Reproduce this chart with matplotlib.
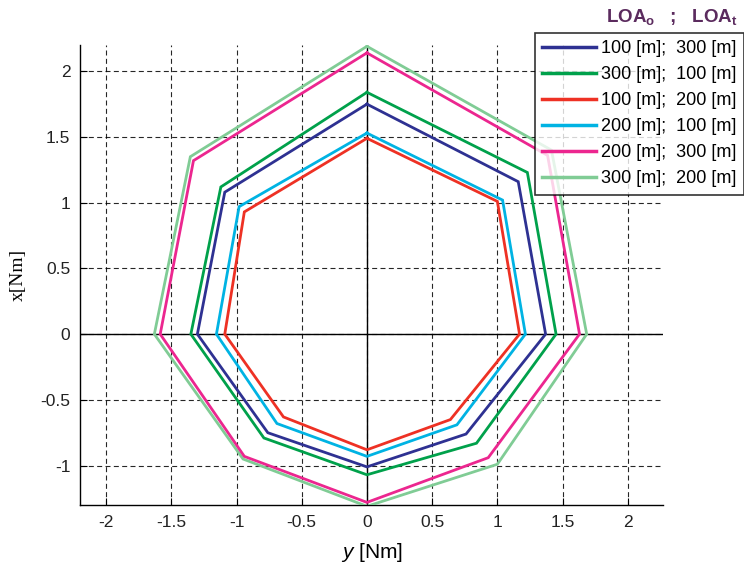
import matplotlib
matplotlib.use("Agg")
import matplotlib.pyplot as plt
from matplotlib.lines import Line2D

plt.rcParams['font.family'] = ['Liberation Sans', 'DejaVu Sans']
plt.rcParams['mathtext.fontset'] = 'custom'
plt.rcParams['mathtext.it'] = 'Liberation Sans:italic'
plt.rcParams['mathtext.rm'] = 'Liberation Sans'
plt.rcParams['mathtext.bf'] = 'Liberation Sans:bold'

# Vertex order: top, upper-right, right, lower-right, bottom, lower-left, left, upper-left
labels = ["100 [m];  300 [m]", "300 [m];  100 [m]", "100 [m];  200 [m]",
          "200 [m];  100 [m]", "200 [m];  300 [m]", "300 [m];  200 [m]"]
colors = ["#2E3192", "#00A14B", "#EE3124", "#00B3E3", "#EC268F", "#80CC95"]

y_blue = [0, 1.16, 1.37, 0.76, 0, -0.76, -1.30, -1.09]
x_blue = [1.75, 1.16, 0, -0.76, -1.01, -0.75, 0, 1.08]

y_green = [0, 1.23, 1.45, 0.84, 0, -0.79, -1.35, -1.12]
x_green = [1.84, 1.23, 0, -0.83, -1.07, -0.79, 0, 1.12]

y_red = [0, 1.00, 1.17, 0.64, 0, -0.64, -1.09, -0.94]
x_red = [1.49, 1.01, 0, -0.65, -0.88, -0.63, 0, 0.93]

y_cyan = [0, 1.04, 1.215, 0.69, 0, -0.69, -1.154, -0.98]
x_cyan = [1.53, 1.02, 0, -0.69, -0.93, -0.68, 0, 0.97]

y_mag = [0, 1.385, 1.63, 0.93, 0, -0.94, -1.585, -1.33]
x_mag = [2.14, 1.36, 0, -0.94, -1.28, -0.93, 0, 1.32]

y_lg = [0, 1.415, 1.685, 1.00, 0, -0.95, -1.63, -1.354]
x_lg = [2.19, 1.40, 0, -0.99, -1.31, -0.95, 0, 1.35]

series = [(y_blue, x_blue), (y_green, x_green), (y_red, x_red),
          (y_cyan, x_cyan), (y_mag, x_mag), (y_lg, x_lg)]
zorders = [4, 4, 4, 4, 4, 3]

xticks = [-2, -1.5, -1, -0.5, 0, 0.5, 1, 1.5, 2]
xticklabels = ["-2", "-1.5", "-1", "-0.5", "0", "0.5", "1", "1.5", "2"]
yticks = [-1, -0.5, 0, 0.5, 1, 1.5, 2]
yticklabels = ["-1", "-0.5", "0", "0.5", "1", "1.5", "2"]

W, H = 744, 569
fig = plt.figure(figsize=(W / 100, H / 100), dpi=100)
ax = fig.add_axes([80 / W, 1 - 505 / H, (663 - 80) / W, (505 - 45) / H])

ax.set_xlim(-2.2, 2.27)
ax.set_ylim(-1.3, 2.2)

ax.axhline(0, color='black', lw=1.0, zorder=2)
ax.axvline(0, color='black', lw=1.0, zorder=2)
ax.grid(True, color='black', linestyle=(0, (4.5, 3)), lw=0.8, alpha=0.85)
ax.set_axisbelow(True)

for (ys, xs), c, lab, z in zip(series, colors, labels, zorders):
    ax.plot(list(ys) + [ys[0]], list(xs) + [xs[0]], color=c, lw=2.0,
            label=lab, zorder=z, solid_joinstyle='miter')

ax.set_xticks(xticks)
ax.set_xticklabels(xticklabels)
ax.set_yticks(yticks)
ax.set_yticklabels(yticklabels)
ax.tick_params(direction='in', length=5, width=0.8, labelsize=12.5, pad=7,
               colors='black', labelcolor='#222222')
for s in ['top', 'right']:
    ax.spines[s].set_visible(False)
for s in ['left', 'bottom']:
    ax.spines[s].set_linewidth(1.0)

ax.set_xlabel(r'$y$ [Nm]', fontsize=15, labelpad=8)
ax.set_ylabel('x[Nm]', fontsize=14, family='Liberation Serif', labelpad=10)

handles = [Line2D([], [], color=c, lw=2.5) for c in colors]
leg = fig.legend(handles, labels, loc='upper right',
                 bbox_to_anchor=(744 / W, 1 - 33 / H),
                 fontsize=13, frameon=True, fancybox=False,
                 edgecolor='black', handlelength=3.0, handletextpad=0.3,
                 labelspacing=0.5, borderpad=0.4, borderaxespad=0)
leg.get_frame().set_linewidth(1.2)

purple = '#5B2B5E'
fig.text(738 / W, 1 - 17 / H,
         r'$\mathbf{LOA}_{\mathbf{o}}$   ;   $\mathbf{LOA}_{\mathbf{t}}$',
         fontsize=13.5, fontweight='bold', color=purple,
         va='center', ha='right')

fig.savefig('out.png', dpi=100)
